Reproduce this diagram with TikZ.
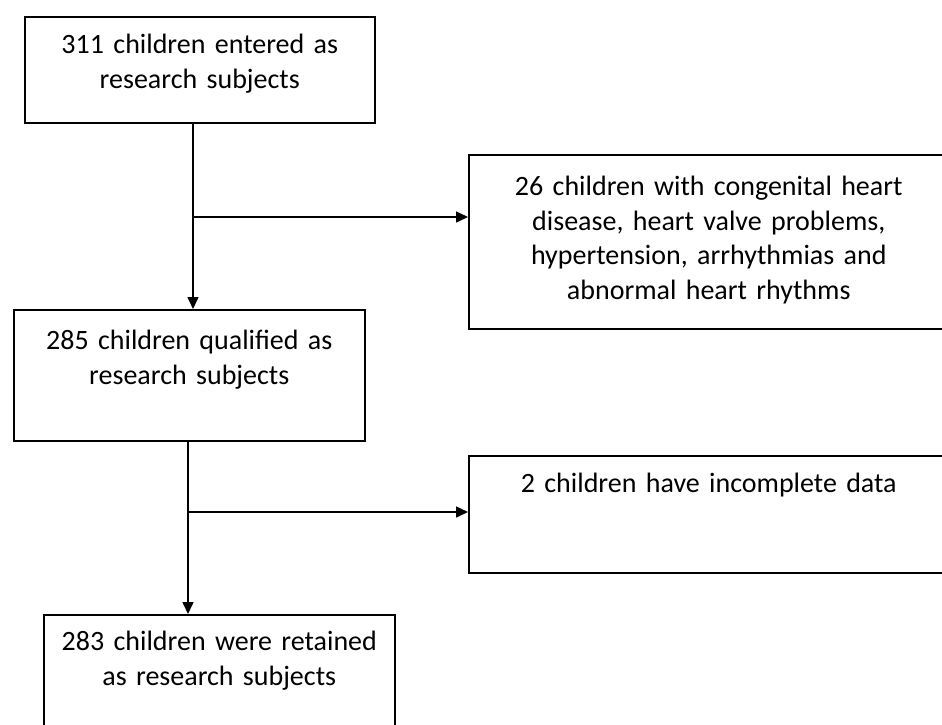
\documentclass[tikz,border=0pt]{standalone}
\usepackage{fontspec}
\setmainfont{Carlito}
\usetikzlibrary{arrows.meta}

\tikzset{
    box/.style={draw,line width=1.5pt,inner sep=0pt,align=center,anchor=north west,
        font=\fontsize{28}{34.5}\selectfont},
    flow/.style={line width=1.5pt,-{Triangle[length=12pt,width=11pt]}}
}

\begin{document}
\begin{tikzpicture}[x=1pt,y=-1pt]
            \useasboundingbox (0,0) rectangle (942,724);
            \node[box,text width=350pt,text height=37pt,text depth=69pt] (enter) at (24,16)
                {311 children entered as\\research subjects};
            \node[box,text width=480pt,text height=41pt,text depth=133pt] (heart) at (468,154)
                {26 children with congenital heart\\disease, heart valve problems,\\hypertension, arrhythmias and\\abnormal heart rhythms};
            \node[box,text width=351pt,text height=40pt,text depth=91pt] (qualify) at (13,309)
                {285 children qualified as\\research subjects};
            \node[box,text width=480pt,text height=37pt,text depth=80pt] (missing) at (468,455)
                {2 children have incomplete data};
            \node[box,text width=351pt,text height=36pt,text depth=90pt] (retain) at (43,614)
                {283 children were retained\\as research subjects};
            \coordinate (split1) at (193,217);
            \coordinate (split2) at (188,512);
            \draw[flow] (enter.south -| split1) -- (qualify.north -| split1);
            \draw[flow] (split1) -- (split1 -| heart.west);
            \draw[flow] (qualify.south -| split2) -- (retain.north -| split2);
            \draw[flow] (split2) -- (split2 -| missing.west);
        \end{tikzpicture}
\end{document}
